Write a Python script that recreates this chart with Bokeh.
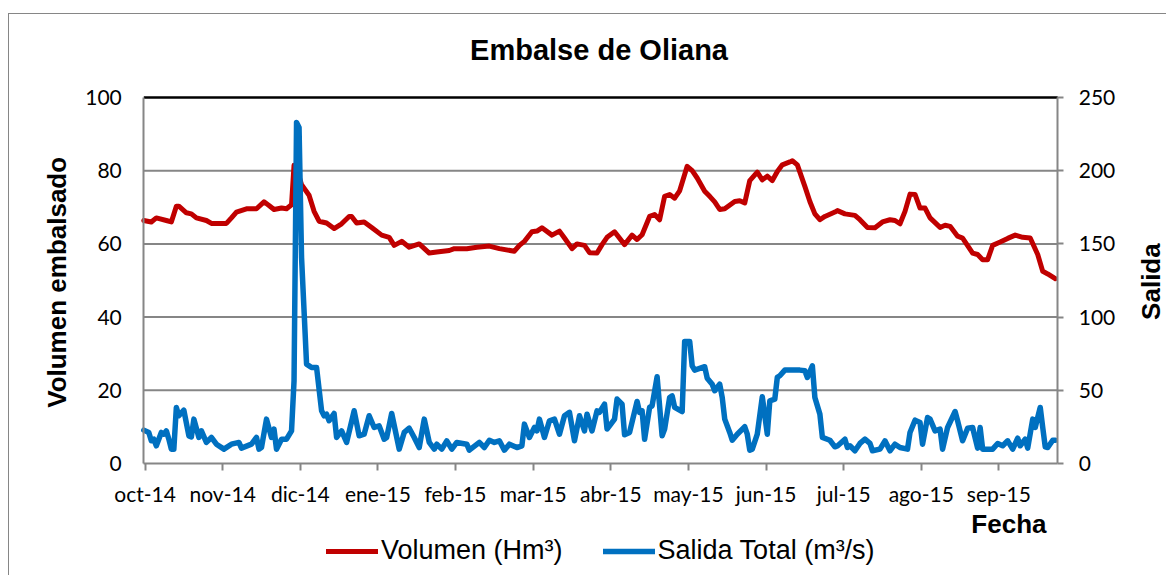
from bokeh.plotting import figure
from bokeh.models import Range1d, LinearAxis, FixedTicker, Label, Legend, LegendItem
from bokeh.embed import file_html
from bokeh.resources import INLINE
import math

# ---- data (day index from 1-oct-2014) ----
month_labels = ["oct-14", "nov-14", "dic-14", "ene-15", "feb-15", "mar-15",
                "abr-15", "may-15", "jun-15", "jul-15", "ago-15", "sep-15"]
left_ticks = [0, 20, 40, 60, 80, 100]
right_ticks = [0, 50, 100, 150, 200, 250]

vol_day = [0, 3, 5, 9, 11, 13, 14, 17, 19, 21, 25, 27, 33, 35, 37, 41, 45, 48, 50, 52,
           55, 57, 59, 60, 61, 63, 66, 68, 70, 73, 76, 79, 82, 83, 85, 88, 91, 95, 98, 100,
           103, 106, 110, 114, 117, 122, 124, 129, 133, 138, 142, 148, 150, 152, 155, 157, 159, 163, 166, 168,
           171, 173, 176, 178, 181, 183, 185, 188, 192, 195, 197, 199, 202, 204, 206, 208, 210, 212, 214, 217,
           219, 221, 224, 226, 228, 230, 232, 236, 238, 240, 242, 245, 247, 249, 251, 253, 255, 258, 259, 261,
           264, 266, 268, 270, 272, 276, 277, 280, 284, 286, 289, 292, 295, 298, 300, 302, 304, 306, 308, 310,
           312, 314, 318, 320, 322, 325, 327, 331, 333, 335, 337, 339, 342, 345, 348, 351, 354, 357, 359, 361, 364]
vol_val = [66.4, 66.0, 67.1, 66.4, 66.0, 70.3, 70.3, 68.5, 68.2, 67.1, 66.4, 65.6, 65.6, 67.1, 68.7, 69.6, 69.6, 71.5, 70.5, 69.4,
           69.8, 69.6, 70.7, 81.5, 80.7, 76.2, 73.3, 68.9, 66.2, 65.7, 64.2, 65.5, 67.5, 67.5, 65.7, 66.0, 64.5, 62.4, 61.8, 59.6,
           60.7, 59.1, 60.0, 57.5, 57.8, 58.2, 58.7, 58.7, 59.1, 59.4, 58.7, 58.0, 59.6, 60.7, 63.3, 63.5, 64.4, 62.4, 63.5, 61.6,
           58.7, 60.0, 59.6, 57.6, 57.5, 59.8, 61.8, 63.3, 59.8, 62.4, 61.2, 62.5, 67.5, 68.0, 66.6, 73.0, 73.5, 72.5, 74.5, 81.2,
           80.0, 78.0, 74.4, 73.0, 71.5, 69.4, 69.6, 71.6, 71.8, 71.2, 77.3, 79.6, 77.5, 78.5, 77.3, 79.8, 81.6, 82.4, 82.7, 81.6,
           75.7, 71.6, 68.2, 66.6, 67.5, 68.7, 69.1, 68.2, 67.8, 66.6, 64.5, 64.4, 66.0, 66.6, 66.4, 65.5, 68.9, 73.6, 73.5, 69.8,
           69.8, 67.1, 64.5, 65.1, 64.8, 62.1, 61.6, 57.5, 57.1, 55.7, 55.7, 59.6, 60.5, 61.5, 62.4, 61.8, 61.6, 57.1, 52.5, 51.8, 50.5]

sal_day = [0, 2, 3, 4, 5, 7, 8, 9, 10, 11, 12, 13, 14, 16, 18, 19, 20, 22, 23, 25,
           27, 29, 32, 35, 38, 39, 43, 45, 46, 47, 49, 51, 52, 53, 55, 57, 59, 60, 61, 62,
           63, 65, 67, 69, 71, 72, 73, 74, 76, 77, 79, 81, 84, 86, 88, 90, 92, 94, 96, 97,
           99, 102, 104, 106, 108, 110, 112, 114, 116, 117, 119, 121, 123, 125, 129, 130, 134, 136, 138, 140,
           142, 144, 146, 149, 151, 152, 154, 156, 157, 158, 160, 162, 164, 166, 168, 170, 172, 174, 176, 177,
           179, 181, 182, 184, 185, 186, 188, 189, 191, 192, 194, 197, 198, 199, 200, 202, 203, 205, 207, 208,
           210, 211, 212, 215, 216, 218, 219, 220, 224, 225, 227, 228, 230, 231, 232, 234, 235, 237, 240, 241,
           242, 243, 245, 247, 249, 250, 252, 253, 254, 256, 262, 264, 265, 267, 268, 270, 271, 274, 276, 277,
           280, 281, 282, 284, 286, 288, 290, 291, 294, 296, 298, 300, 302, 305, 306, 308, 310, 311, 313, 314,
           316, 318, 319, 321, 324, 325, 327, 329, 331, 333, 334, 335, 339, 341, 343, 345, 347, 349, 350, 352,
           353, 355, 356, 358, 359, 360, 361, 363, 364]
sal_val = [22.8, 21.2, 15.5, 16.6, 12.1, 21.2, 20.0, 22.3, 16.6, 9.8, 9.8, 38.3, 32.6, 36.4, 18.9, 18.2, 30.3, 17.8, 22.3, 14.4,
           17.8, 13.2, 9.8, 13.2, 14.4, 10.5, 13.2, 17.8, 9.8, 10.9, 30.3, 17.8, 23.5, 9.8, 16.6, 16.6, 22.3, 56.5, 233.0, 229.6,
           140.8, 67.9, 65.6, 65.6, 36.0, 32.6, 33.7, 29.2, 34.2, 17.8, 22.3, 14.4, 36.0, 18.9, 20.0, 32.6, 24.6, 25.7, 16.6, 17.8,
           34.2, 9.8, 21.2, 24.1, 17.8, 10.9, 30.3, 14.4, 9.8, 13.2, 9.8, 15.5, 9.8, 14.4, 13.2, 9.1, 14.4, 10.9, 15.9, 14.4,
           15.5, 9.1, 13.2, 10.9, 12.1, 26.9, 17.8, 24.6, 22.3, 30.3, 17.8, 29.2, 30.3, 20.0, 32.6, 34.9, 15.5, 32.6, 22.3, 33.7,
           22.3, 36.0, 35.0, 40.5, 23.5, 25.7, 30.3, 44.0, 40.5, 19.6, 21.2, 42.4, 34.9, 36.0, 16.6, 38.3, 39.4, 59.2, 18.9, 23.5,
           45.1, 46.2, 38.3, 35.5, 83.4, 83.4, 66.7, 63.8, 66.1, 58.3, 54.2, 49.7, 54.2, 45.1, 30.3, 21.2, 15.9, 20.0, 25.1, 20.0,
           9.1, 9.8, 20.0, 45.6, 20.0, 42.8, 44.0, 58.8, 59.9, 63.8, 63.8, 63.3, 58.8, 66.7, 45.1, 33.7, 17.8, 15.9, 11.4, 12.0,
           16.6, 10.9, 12.1, 8.7, 13.7, 16.6, 13.7, 8.7, 9.8, 15.5, 8.7, 13.2, 10.9, 9.8, 21.2, 29.6, 28.0, 13.2, 31.4, 30.3,
           22.3, 23.5, 9.8, 24.6, 35.5, 29.2, 15.5, 24.1, 24.6, 10.5, 24.6, 9.8, 9.8, 13.7, 12.1, 15.5, 9.8, 17.3, 12.1, 16.6,
           10.5, 30.3, 24.6, 38.3, 24.6, 11.4, 10.9, 15.9, 15.9]

RED = "#C00000"
BLUE = "#0070C0"
GRID = "#868686"
TICK_FONT = "Lato"
ARIAL = "Liberation Sans"

N_DAYS = 365
tick_pos = [0.5 + 31 * k for k in range(len(month_labels))]

# The frame covers the whole chart area (annotations are clipped to the frame);
# the plot box itself is days 0..365 x values 0..100 (910 x 366 px).
W, H = 1158, 562
PXX = 2.504          # px per day
PXY = 3.66           # px per left-axis unit
box_left, box_top = 134.3, 83.0     # plot box position inside the figure
x_lo = -box_left / PXX
x_hi = x_lo + W / PXX
y_hi = 100 + box_top / PXY
y_lo = y_hi - H / PXY

p = figure(width=W, height=H, x_range=Range1d(x_lo, x_hi), y_range=Range1d(y_lo, y_hi),
           output_backend="svg", toolbar_location=None,
           min_border_left=0, min_border_right=0, min_border_top=0, min_border_bottom=0)
p.extra_y_ranges = {"sal": Range1d(y_lo * 2.5, y_hi * 2.5)}
p.outline_line_color = None
p.background_fill_color = "white"
p.border_fill_color = "white"
p.styles = {"margin-top": "13px", "margin-left": "8px",
            "border-top": "1px solid #868686", "border-left": "1px solid #868686"}

# horizontal grid lines limited to the plot box (gray), top border line (black)
p.xgrid.visible = False
p.ygrid.visible = False
inner = left_ticks[1:-1]
p.segment(x0=[0] * len(inner), x1=[N_DAYS] * len(inner), y0=inner, y1=inner,
          line_color=GRID, line_width=2)
p.segment(x0=[0], x1=[N_DAYS], y0=[left_ticks[-1]], y1=[left_ticks[-1]],
          line_color="black", line_width=2.5)

# x axis, drawn at y = 0
xa = p.xaxis[0]
xa.fixed_location = 0
xa.bounds = (0, N_DAYS)
xa.ticker = FixedTicker(ticks=tick_pos)
xa.major_label_overrides = {t: lab for t, lab in zip(tick_pos, month_labels)}
xa.major_tick_out = 7
xa.major_tick_in = 0
xa.minor_tick_line_color = None
xa.axis_line_color = GRID
xa.axis_line_width = 2
xa.major_tick_line_color = GRID
xa.major_tick_line_width = 2
xa.major_label_standoff = 10
xa.major_label_text_font = TICK_FONT
xa.major_label_text_font_size = "21px"
xa.major_label_text_color = "black"

# left axis, drawn at day 0
ya = p.yaxis[0]
ya.fixed_location = 0
ya.bounds = (0, 100)
ya.ticker = FixedTicker(ticks=left_ticks)
ya.major_tick_out = 0
ya.major_tick_in = 0
ya.minor_tick_line_color = None
ya.axis_line_color = GRID
ya.axis_line_width = 2
ya.major_label_standoff = 22
ya.major_label_text_font = TICK_FONT
ya.major_label_text_font_size = "21px"
ya.major_label_text_color = "black"

# right axis, drawn at the last day
ra = LinearAxis(y_range_name="sal", ticker=FixedTicker(ticks=right_ticks), bounds=(0, 250),
                fixed_location=N_DAYS)
ra.major_tick_out = 6
ra.major_tick_in = 0
ra.minor_tick_line_color = None
ra.axis_line_color = GRID
ra.axis_line_width = 2
ra.major_tick_line_color = GRID
ra.major_tick_line_width = 2
ra.major_label_standoff = 15
ra.major_label_text_font = TICK_FONT
ra.major_label_text_font_size = "21px"
ra.major_label_text_color = "black"
p.add_layout(ra, "right")

# series
r_vol = p.line(vol_day, vol_val, line_color=RED, line_width=5, line_join="round", line_cap="round")
r_sal = p.line(sal_day, sal_val, y_range_name="sal", line_color=BLUE, line_width=5.5,
               line_join="round", line_cap="round")

# texts
def bold_label(x, y, text, size, align="center", angle=0.0):
    p.add_layout(Label(x=x, y=y, text=text, text_align=align, text_baseline="middle", angle=angle,
                       text_font=ARIAL, text_font_style="bold", text_font_size=size,
                       text_color="black"))

bold_label(181.8, 113.1, "Embalse de Oliana", "29px")
bold_label(360.5, -16.4, "Fecha", "26px", align="right")
bold_label(-34.5, 49.5, "Volumen embalsado", "26px", angle=math.pi / 2)
bold_label(402.4, 49.7, "Salida", "26px", angle=math.pi / 2)

legend = Legend(items=[LegendItem(label="Volumen (Hm³)", renderers=[r_vol]),
                       LegendItem(label="Salida Total (m³/s)", renderers=[r_sal])],
                orientation="horizontal", location=(317, 10),
                glyph_width=52, glyph_height=20, label_standoff=3, spacing=40,
                padding=0, margin=0, border_line_color=None, background_fill_alpha=0,
                label_text_font=ARIAL, label_text_font_size="27px", label_text_color="black")
p.add_layout(legend, "center")

open("out.html", "w").write(file_html(p, INLINE))
